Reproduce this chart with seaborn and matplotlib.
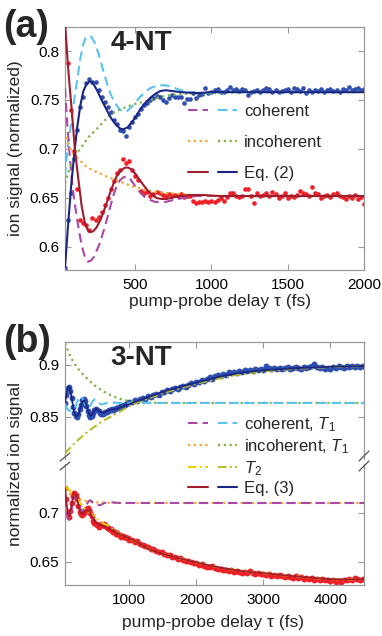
import numpy as np
import matplotlib
matplotlib.use("Agg")
import matplotlib.pyplot as plt
import seaborn as sns
from matplotlib.lines import Line2D
from matplotlib.legend_handler import HandlerTuple
from matplotlib.ticker import FixedLocator, FuncFormatter

# ---------------- data: panel (a) 4-NT ----------------
A_TAU = np.arange(40, 2001, 20)
A_BLUE = [0.579, 0.628, 0.655, 0.690, 0.719, 0.743, 0.753, 0.767, 0.771, 0.768,
          0.768, 0.760, 0.753, 0.748, 0.743, 0.738, 0.730, 0.725, 0.719, 0.718,
          0.713, 0.722, 0.728, 0.733, 0.736, 0.741, 0.745, 0.747, 0.750, 0.752,
          0.754, 0.753, 0.750, 0.748, 0.752, 0.755, 0.753, 0.753, 0.753, 0.747,
          0.751, 0.751, 0.757, 0.752, 0.755, 0.756, 0.762, 0.757, 0.758, 0.760,
          0.761, 0.758, 0.758, 0.760, 0.763, 0.760, 0.761, 0.759, 0.761, 0.760,
          0.755, 0.758, 0.759, 0.760, 0.758, 0.760, 0.762, 0.761, 0.758, 0.760,
          0.758, 0.759, 0.760, 0.761, 0.758, 0.762, 0.761, 0.759, 0.762, 0.757,
          0.760, 0.758, 0.760, 0.759, 0.761, 0.758, 0.760, 0.761, 0.759, 0.760,
          0.758, 0.761, 0.760, 0.763, 0.760, 0.761, 0.762, 0.760, 0.761]
A_RED = [0.835, 0.788, 0.740, 0.698, 0.659, 0.628, 0.624, 0.622, 0.617, 0.630,
         0.628, 0.631, 0.636, 0.643, 0.650, 0.659, 0.667, 0.676, 0.679, 0.690,
         0.686, 0.688, 0.679, 0.672, 0.668, 0.657, 0.655, 0.656, 0.652, 0.654,
         0.656, 0.655, 0.653, 0.652, 0.654, 0.652, 0.653, 0.652, 0.654, 0.651,
         0.652, 0.652, 0.647, 0.645, 0.646, 0.646, 0.647, 0.646, 0.647, 0.646,
         0.648, 0.650, 0.647, 0.651, 0.655, 0.655, 0.652, 0.651, 0.652, 0.659,
         0.659, 0.652, 0.645, 0.655, 0.652, 0.653, 0.655, 0.652, 0.656, 0.654,
         0.650, 0.652, 0.655, 0.650, 0.652, 0.651, 0.653, 0.657, 0.655, 0.654,
         0.652, 0.661, 0.655, 0.654, 0.650, 0.652, 0.653, 0.651, 0.654, 0.655,
         0.652, 0.651, 0.649, 0.652, 0.650, 0.653, 0.649, 0.651, 0.644]

A_NAVY_T = [40, 60, 80, 100, 120, 140, 160, 180, 200, 220, 250, 280, 313, 340, 367, 400, 420, 450,
            477, 500, 531, 560, 597, 630, 662, 700, 750, 800, 900, 1000, 2000]
A_NAVY_V = [0.579, 0.622, 0.662, 0.694, 0.722, 0.744, 0.759, 0.766, 0.769, 0.768, 0.760, 0.750,
            0.740, 0.732, 0.726, 0.721, 0.720, 0.722, 0.727, 0.732, 0.740, 0.746, 0.752, 0.756,
            0.759, 0.760, 0.759, 0.758, 0.757, 0.758, 0.758]
A_CYAN_T = [40, 50, 60, 73, 84, 105, 125, 140, 158, 175, 193, 215, 236, 258, 280, 302, 324, 345,
            367, 395, 422, 450, 477, 505, 531, 565, 597, 630, 662, 700, 728, 780, 850, 920, 1000,
            1100, 2000]
A_CYAN_V = [0.672, 0.690, 0.705, 0.718, 0.730, 0.755, 0.776, 0.792, 0.806, 0.813, 0.816, 0.814,
            0.808, 0.798, 0.786, 0.774, 0.762, 0.754, 0.747, 0.741, 0.738, 0.739, 0.743, 0.748,
            0.753, 0.758, 0.762, 0.764, 0.765, 0.765, 0.764, 0.761, 0.758, 0.757, 0.757, 0.758,
            0.758]
A_GREEN_T = [40, 62, 84, 105, 138, 171, 204, 240, 269, 300, 335, 380, 444, 500, 551, 600, 662,
             730, 800, 900, 1000, 1200, 2000]
A_GREEN_V = [0.665, 0.676, 0.685, 0.692, 0.700, 0.707, 0.714, 0.719, 0.724, 0.729, 0.735, 0.739,
             0.743, 0.746, 0.748, 0.750, 0.753, 0.755, 0.756, 0.757, 0.757, 0.758, 0.758]
A_MAG_T = [40, 55, 70, 85, 100, 116, 130, 150, 170, 190, 210, 230, 269, 300, 335, 356, 378, 400,
           422, 444, 465, 487, 515, 542, 570, 597, 630, 662, 700, 750, 813, 900, 1000, 2000]
A_MAG_V = [0.762, 0.725, 0.695, 0.668, 0.648, 0.632, 0.618, 0.601, 0.590, 0.585, 0.586, 0.590,
           0.604, 0.620, 0.640, 0.652, 0.662, 0.668, 0.671, 0.672, 0.670, 0.665, 0.659, 0.654,
           0.650, 0.648, 0.646, 0.646, 0.646, 0.648, 0.650, 0.652, 0.652, 0.652]
A_DRED_T = [40, 57, 70, 84, 105, 127, 149, 171, 190, 204, 225, 247, 270, 291, 313, 335, 356, 378,
            405, 433, 455, 477, 505, 531, 560, 586, 615, 640, 670, 706, 760, 850, 950, 1050, 1200,
            2000]
A_DRED_V = [0.830, 0.790, 0.765, 0.740, 0.699, 0.670, 0.642, 0.624, 0.617, 0.615, 0.616, 0.620,
            0.627, 0.635, 0.645, 0.655, 0.664, 0.672, 0.678, 0.681, 0.681, 0.679, 0.674, 0.668,
            0.662, 0.657, 0.653, 0.650, 0.649, 0.649, 0.651, 0.653, 0.653, 0.652, 0.652, 0.652]
A_ORANGE_T = [40, 60, 80, 100, 140, 180, 225, 270, 313, 378, 444, 500, 600, 700, 800, 900, 1000, 2000]
A_ORANGE_V = [0.718, 0.705, 0.698, 0.694, 0.688, 0.682, 0.678, 0.675, 0.672, 0.668, 0.664, 0.661,
              0.657, 0.655, 0.654, 0.653, 0.652, 0.652]

# ---------------- data: panel (b) 3-NT ----------------
B_TAU = np.concatenate([np.arange(40, 1001, 20), np.arange(1040, 4481, 40)])
B_BLUE = [0.863, 0.871, 0.878, 0.879, 0.875, 0.868, 0.860, 0.854, 0.851, 0.850,
          0.853, 0.858, 0.862, 0.866, 0.867, 0.865, 0.861, 0.856, 0.852, 0.850,
          0.851, 0.854, 0.857, 0.858, 0.857, 0.856, 0.854, 0.853, 0.853, 0.854,
          0.855, 0.855, 0.856, 0.857, 0.857, 0.858, 0.857, 0.858, 0.859, 0.859,
          0.860, 0.860, 0.861, 0.861, 0.862, 0.862, 0.863, 0.863, 0.864,
          0.864, 0.866, 0.865, 0.867, 0.868, 0.867, 0.870, 0.869, 0.871, 0.872,
          0.871, 0.874, 0.874, 0.876, 0.875, 0.877, 0.878, 0.877, 0.879, 0.880,
          0.879, 0.881, 0.883, 0.882, 0.884, 0.884, 0.886, 0.885, 0.887, 0.888,
          0.887, 0.889, 0.890, 0.889, 0.891, 0.890, 0.893, 0.892, 0.893, 0.892,
          0.894, 0.893, 0.895, 0.894, 0.895, 0.894, 0.896, 0.895, 0.896, 0.895,
          0.899, 0.897, 0.896, 0.897, 0.896, 0.897, 0.896, 0.897, 0.898, 0.896,
          0.897, 0.898, 0.897, 0.896, 0.898, 0.897, 0.898, 0.899, 0.901, 0.898,
          0.897, 0.898, 0.896, 0.897, 0.896, 0.898, 0.897, 0.899, 0.898, 0.897,
          0.899, 0.898, 0.899, 0.898, 0.899, 0.898, 0.899]
B_RED = [0.726, 0.714, 0.700, 0.696, 0.702, 0.710, 0.717, 0.720, 0.718, 0.714,
         0.707, 0.701, 0.699, 0.698, 0.700, 0.703, 0.704, 0.705, 0.703, 0.700,
         0.697, 0.692, 0.690, 0.689, 0.688, 0.686, 0.687, 0.689, 0.688, 0.689,
         0.687, 0.686, 0.685, 0.684, 0.684, 0.682, 0.681, 0.681, 0.679, 0.680,
         0.678, 0.678, 0.676, 0.677, 0.675, 0.676, 0.674, 0.674, 0.672,
         0.672, 0.670, 0.671, 0.668, 0.667, 0.666, 0.665, 0.663, 0.663, 0.661,
         0.660, 0.660, 0.658, 0.657, 0.657, 0.655, 0.655, 0.653, 0.654, 0.652,
         0.651, 0.651, 0.650, 0.649, 0.649, 0.647, 0.648, 0.646, 0.645, 0.645,
         0.646, 0.644, 0.643, 0.643, 0.642, 0.642, 0.641, 0.642, 0.640, 0.641,
         0.640, 0.639, 0.640, 0.639, 0.641, 0.639, 0.638, 0.639, 0.638, 0.638,
         0.637, 0.638, 0.636, 0.637, 0.636, 0.637, 0.636, 0.635, 0.636, 0.635,
         0.634, 0.636, 0.634, 0.635, 0.633, 0.634, 0.633, 0.634, 0.632, 0.633,
         0.632, 0.633, 0.632, 0.632, 0.631, 0.632, 0.630, 0.631, 0.630, 0.632,
         0.632, 0.633, 0.632, 0.634, 0.633, 0.632, 0.633]

B_NAVY_T = [40, 60, 80, 100, 120, 145, 170, 195, 220, 245, 270, 295, 320, 345, 370, 395, 420, 445,
            470, 500, 530, 567, 600, 642, 716, 816, 900, 965, 1064, 1164, 1364, 1563, 1761, 2060,
            2359, 2657, 3005, 3503, 4000, 4500]
B_NAVY_V = [0.864, 0.872, 0.878, 0.879, 0.876, 0.866, 0.857, 0.852, 0.8505, 0.853, 0.859, 0.864,
            0.866, 0.864, 0.859, 0.854, 0.851, 0.852, 0.855, 0.858, 0.857, 0.855, 0.854, 0.855,
            0.857, 0.858, 0.860, 0.8615, 0.864, 0.8663, 0.871, 0.8755, 0.879, 0.884, 0.889,
            0.8925, 0.895, 0.897, 0.8983, 0.899]
B_CYAN_T = [40, 70, 100, 130, 170, 200, 235, 270, 300, 330, 360, 390, 420, 450, 480, 510, 540, 580,
            620, 680, 750, 850, 4500]
B_CYAN_V = [0.862, 0.858, 0.856, 0.856, 0.857, 0.861, 0.867, 0.870, 0.868, 0.864, 0.860, 0.859,
            0.861, 0.865, 0.867, 0.866, 0.864, 0.862, 0.8625, 0.864, 0.864, 0.8635, 0.8635]
B_GREEN_T = [40, 120, 194, 268, 368, 468, 617, 766, 915, 1064, 1300, 1600, 4500]
B_GREEN_V = [0.921, 0.908, 0.900, 0.8936, 0.887, 0.881, 0.8744, 0.8695, 0.8663, 0.8647, 0.8637,
             0.8635, 0.8635]
B_OLIVE_T = [40, 200, 400, 600, 800, 1000, 1200, 1500, 2000, 2500, 3000, 3500, 4000, 4500]
B_OLIVE_V = [0.815, 0.826, 0.837, 0.846, 0.853, 0.8605, 0.866, 0.873, 0.882, 0.8895, 0.894,
             0.8965, 0.898, 0.899]
B_DRED_T = [40, 60, 80, 100, 125, 150, 175, 200, 225, 250, 275, 300, 325, 350, 380, 410, 440, 470,
            500, 550, 600, 650, 716, 816, 900, 965, 1115, 1314, 1463, 1612, 1761, 2000, 2260, 2508,
            2757, 3005, 3254, 3503, 3752, 4010, 4250, 4500]
B_DRED_V = [0.726, 0.712, 0.700, 0.697, 0.703, 0.713, 0.719, 0.719, 0.713, 0.705, 0.700, 0.699,
            0.701, 0.703, 0.703, 0.701, 0.697, 0.693, 0.690, 0.688, 0.687, 0.686, 0.6835, 0.6795,
            0.677, 0.675, 0.670, 0.6625, 0.659, 0.656, 0.6535, 0.6495, 0.6455, 0.6425, 0.640,
            0.6385, 0.6368, 0.6352, 0.6337, 0.6325, 0.6322, 0.6325]
B_MAG_T = [40, 60, 80, 100, 125, 150, 180, 210, 240, 270, 300, 330, 360, 390, 420, 450, 480, 520,
           567, 620, 690, 750, 850, 4500]
B_MAG_V = [0.716, 0.703, 0.695, 0.693, 0.698, 0.708, 0.716, 0.717, 0.711, 0.704, 0.702, 0.704,
           0.708, 0.712, 0.713, 0.711, 0.709, 0.708, 0.708, 0.710, 0.7115, 0.7108, 0.7102, 0.7102]
B_ORANGE_T = [40, 100, 160, 220, 300, 400, 500, 600, 800, 4500]
B_ORANGE_V = [0.724, 0.720, 0.717, 0.715, 0.713, 0.7115, 0.7108, 0.7105, 0.7103, 0.7102]
B_YELLOW_T = [40, 100, 150, 200, 270, 340, 420, 500, 570, 650, 716, 816, 900, 1000, 1115, 1314,
              1463, 1612, 1761, 2000, 2260, 2508, 2757, 3005, 3254, 3503, 3752, 4010, 4250, 4500]
B_YELLOW_V = [0.727, 0.724, 0.720, 0.716, 0.710, 0.704, 0.700, 0.695, 0.691, 0.688, 0.685, 0.680,
              0.677, 0.6735, 0.670, 0.6625, 0.659, 0.656, 0.6535, 0.6495, 0.6455, 0.6425, 0.640,
              0.6385, 0.6368, 0.6352, 0.6337, 0.6325, 0.6322, 0.6325]

A_XTICKS = [500, 1000, 1500, 2000]
A_YTICKS = [0.6, 0.65, 0.7, 0.75, 0.8]
B_XTICKS = [1000, 2000, 3000, 4000]
B_YTICKS_TOP = [0.85, 0.9]
B_YTICKS_BOT = [0.65, 0.7]

# ---------------- style ----------------
sns.set_style("ticks")
plt.rcParams['font.family'] = ['Liberation Sans', 'DejaVu Sans']
plt.rcParams['mathtext.fontset'] = 'custom'
plt.rcParams['mathtext.rm'] = 'Liberation Sans'
plt.rcParams['mathtext.it'] = 'Liberation Sans:italic'

C_NAVY = '#1c2682'
C_BLUE = '#2e4eb0'
C_DRED = '#a01c30'
C_RED = '#ee1f26'
C_CYAN = '#58c3f0'
C_MAG = '#aa48a8'
C_GREEN = '#78b640'
C_ORANGE = '#f4a52a'
C_YELLOW = '#f7d000'
C_OLIVE = '#b7bd2a'
SPINE = '#9a9a9a'

LS_DASH = (0, (4.5, 2.5))
LS_DOT = (0, (1, 1.6))
LS_DDOT = (0, (4, 1.6, 1, 1.6))

W, H = 382, 636
fig = plt.figure(figsize=(W / 100, H / 100), dpi=100)
fig.patch.set_facecolor('white')


def fx(p):
    return p / W


def fy(p):
    return 1 - p / H


def curve(ax, t, v, color, ls, lw, z):
    sns.lineplot(x=t, y=v, ax=ax, color=color, linestyle=ls, linewidth=lw, zorder=z,
                 sort=False, estimator=None, errorbar=None, legend=False)


def dots(ax, t, v, color, s):
    sns.scatterplot(x=t, y=v, ax=ax, color=color, s=s, linewidth=0, zorder=2, legend=False)


def style(ax, **kw):
    for sp in ax.spines.values():
        sp.set_color(SPINE)
        sp.set_linewidth(0.9)
    ax.tick_params(direction='in', length=4, width=0.8, color=SPINE, labelsize=11,
                   labelcolor='black', top=True, right=True, **kw)
    ax.tick_params(axis='x', pad=6)
    ax.tick_params(axis='y', pad=4)
    ax.set_xlabel('')
    ax.set_ylabel('')


fmt = FuncFormatter(lambda v, p: f'{v:g}')

# ---------------- panel (a) ----------------
ax_a = fig.add_axes([fx(65), fy(270), fx(299), 243 / H])
dots(ax_a, A_TAU, A_BLUE, C_BLUE, 11)
dots(ax_a, A_TAU, A_RED, C_RED, 11)
curve(ax_a, A_CYAN_T, A_CYAN_V, C_CYAN, LS_DASH, 1.5, 3)
curve(ax_a, A_MAG_T, A_MAG_V, C_MAG, LS_DASH, 1.5, 3)
curve(ax_a, A_GREEN_T, A_GREEN_V, C_GREEN, LS_DOT, 1.6, 3)
curve(ax_a, A_ORANGE_T, A_ORANGE_V, C_ORANGE, LS_DOT, 1.6, 3)
curve(ax_a, A_NAVY_T, A_NAVY_V, C_NAVY, '-', 1.5, 4)
curve(ax_a, A_DRED_T, A_DRED_V, C_DRED, '-', 1.5, 4)
ax_a.set_xlim(40, 2000)
ax_a.set_ylim(0.5765, 0.8245)
ax_a.xaxis.set_major_locator(FixedLocator(A_XTICKS))
ax_a.yaxis.set_major_locator(FixedLocator(A_YTICKS))
ax_a.yaxis.set_major_formatter(fmt)
style(ax_a)


def lh(color, ls, lw=1.5):
    return Line2D([], [], color=color, linestyle=ls, linewidth=lw)


leg_a = ax_a.legend(
    [(lh(C_MAG, LS_DASH), lh(C_CYAN, LS_DASH)),
     (lh(C_ORANGE, LS_DOT, 1.6), lh(C_GREEN, LS_DOT, 1.6)),
     (lh(C_DRED, '-'), lh(C_NAVY, '-'))],
    ['coherent', 'incoherent', 'Eq. (2)'],
    handler_map={tuple: HandlerTuple(ndivide=None, pad=0.6)},
    loc='upper left', bbox_to_anchor=(fx(188), fy(104)), bbox_transform=fig.transFigure,
    frameon=False, fontsize=12, handlelength=2.95, handletextpad=0.4, labelspacing=0.95,
    borderpad=0, borderaxespad=0)

fig.text(fx(3), fy(37), '(a)', fontsize=27, fontweight='bold', ha='left', va='baseline')
fig.text(fx(141), fy(50), '4-NT', fontsize=20, fontweight='bold', ha='center', va='baseline')
fig.text(fx(16), fy(148.5), 'ion signal (normalized)', fontsize=12.5, rotation=90,
         ha='center', va='center')
fig.text(fx(220), fy(301), 'pump-probe delay τ (fs)', fontsize=12.5, ha='center', va='center')

# ---------------- panel (b) ----------------
ax_bt = fig.add_axes([fx(65), fy(459), fx(299), 117 / H])
ax_bb = fig.add_axes([fx(65), fy(585), fx(299), 121 / H])

dots(ax_bt, B_TAU, B_BLUE, C_BLUE, 18)
curve(ax_bt, B_GREEN_T, B_GREEN_V, C_GREEN, LS_DOT, 1.6, 3)
curve(ax_bt, B_CYAN_T, B_CYAN_V, C_CYAN, LS_DASH, 1.5, 3)
curve(ax_bt, B_OLIVE_T, B_OLIVE_V, C_OLIVE, LS_DDOT, 1.5, 3)
curve(ax_bt, B_NAVY_T, B_NAVY_V, C_NAVY, '-', 1.3, 4)

dots(ax_bb, B_TAU, B_RED, C_RED, 18)
curve(ax_bb, B_ORANGE_T, B_ORANGE_V, C_ORANGE, LS_DOT, 1.6, 3)
curve(ax_bb, B_MAG_T, B_MAG_V, C_MAG, LS_DASH, 1.5, 3)
curve(ax_bb, B_YELLOW_T, B_YELLOW_V, C_YELLOW, LS_DDOT, 1.5, 3)
curve(ax_bb, B_DRED_T, B_DRED_V, C_DRED, '-', 1.3, 4)

for ax in (ax_bt, ax_bb):
    ax.set_xlim(40, 4500)
    ax.xaxis.set_major_locator(FixedLocator(B_XTICKS))
    ax.yaxis.set_major_formatter(fmt)
ax_bt.set_ylim(0.8096, 0.9221)
ax_bb.set_ylim(0.6265, 0.750)
ax_bt.yaxis.set_major_locator(FixedLocator(B_YTICKS_TOP))
ax_bb.yaxis.set_major_locator(FixedLocator(B_YTICKS_BOT))
style(ax_bt)
style(ax_bb)
ax_bt.spines['bottom'].set_visible(False)
ax_bt.tick_params(bottom=False, labelbottom=False)
ax_bb.spines['top'].set_visible(False)
ax_bb.tick_params(top=False)

for (x0, y0, x1, y1) in [(60, 461, 70, 453), (60, 470, 70, 462),
                         (359, 461, 369, 451), (359, 471, 369, 461)]:
    fig.add_artist(Line2D([fx(x0), fx(x1)], [fy(y0), fy(y1)], transform=fig.transFigure,
                          color='#555555', linewidth=0.9, zorder=10))

fig.legend(
    [(lh(C_MAG, LS_DASH), lh(C_CYAN, LS_DASH)),
     (lh(C_ORANGE, LS_DOT, 1.6), lh(C_GREEN, LS_DOT, 1.6)),
     (lh(C_YELLOW, LS_DDOT), lh(C_OLIVE, LS_DDOT)),
     (lh(C_DRED, '-'), lh(C_NAVY, '-'))],
    ['coherent, $T_1$', 'incoherent, $T_1$', '$T_2$', 'Eq. (3)'],
    handler_map={tuple: HandlerTuple(ndivide=None, pad=0.6)},
    loc='upper left', bbox_to_anchor=(fx(188), fy(415)), bbox_transform=fig.transFigure,
    frameon=False, fontsize=12, handlelength=2.95, handletextpad=0.4, labelspacing=0.2,
    borderpad=0, borderaxespad=0)

fig.text(fx(3), fy(352), '(b)', fontsize=27, fontweight='bold', ha='left', va='baseline')
fig.text(fx(141), fy(365), '3-NT', fontsize=20, fontweight='bold', ha='center', va='baseline')
fig.text(fx(16), fy(463.5), 'normalized ion signal', fontsize=12.5, rotation=90,
         ha='center', va='center')
fig.text(fx(213), fy(623), 'pump-probe delay τ (fs)', fontsize=12.5, ha='center', va='center')

fig.savefig('out.png', dpi=100, facecolor='white')
